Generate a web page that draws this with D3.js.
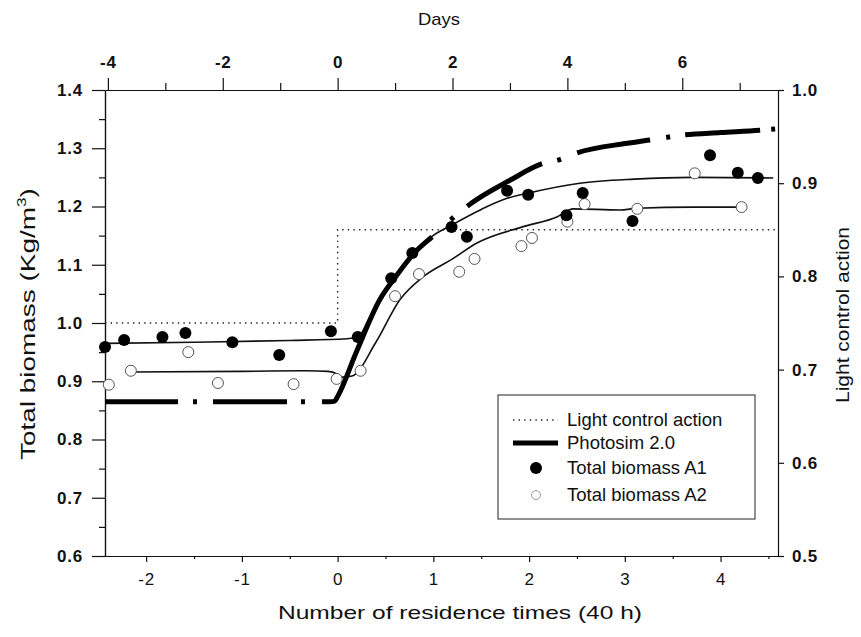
<!DOCTYPE html>
<html>
<head>
<meta charset="utf-8">
<script src="https://cdn.jsdelivr.net/npm/d3@7"></script>
<style>
  body { margin: 0; background: #fff; }
  text { font-family: "Liberation Sans", Arial, sans-serif; fill: #111; }
</style>
</head>
<body>
<div id="chart"></div>
<script>
// light control action (right axis), step at t = 0
const lightX = [-2.43, 0, 0, 4.6];
const lightY = [0.75, 0.75, 0.85, 0.85];

// Photosim 2.0 model output
const photoX = [-2.43, -0.08, -0.03, 0.0, 0.2, 0.44, 0.6, 0.8, 1.0, 1.2, 1.4, 1.8, 2.13, 2.31, 2.5, 3.0, 3.26, 3.62, 4.0, 4.41, 4.57];
const photoY = [0.865, 0.865, 0.866, 0.874, 0.952, 1.04, 1.078, 1.12, 1.15, 1.18, 1.206, 1.245, 1.273, 1.28, 1.292, 1.308, 1.314, 1.323, 1.327, 1.331, 1.333];

// fitted trend lines
const a1FitX = [-2.43, -1.5, -0.5, 0.1, 0.22, 0.32, 0.44, 0.6, 0.8, 0.98, 1.19, 1.5, 1.77, 1.99, 2.53, 3.1, 3.71, 4.55];
const a1FitY = [0.965, 0.967, 0.97, 0.973, 0.977, 1.005, 1.04, 1.08, 1.12, 1.148, 1.168, 1.195, 1.214, 1.223, 1.24, 1.247, 1.25, 1.249];
const a2FitX = [-2.17, -1.0, -0.32, -0.1, 0.0, 0.05, 0.15, 0.4, 0.65, 0.89, 1.2, 1.45, 1.93, 2.29, 2.46, 2.95, 3.13, 3.71, 4.22];
const a2FitY = [0.916, 0.917, 0.918, 0.917, 0.912, 0.907, 0.909, 0.967, 1.04, 1.079, 1.11, 1.137, 1.165, 1.182, 1.196, 1.194, 1.197, 1.199, 1.199];

// measured biomass
const a1X = [-2.43, -2.23, -1.83, -1.59, -1.10, -0.61, -0.07, 0.21, 0.56, 0.78, 1.19, 1.35, 1.77, 1.99, 2.39, 2.56, 3.08, 3.89, 4.18, 4.39];
const a1Y = [0.959, 0.971, 0.976, 0.983, 0.967, 0.945, 0.986, 0.976, 1.077, 1.12, 1.165, 1.148, 1.227, 1.22, 1.185, 1.223, 1.175, 1.288, 1.258, 1.249];
const a2X = [-2.39, -2.16, -1.56, -1.25, -0.46, -0.01, 0.24, 0.60, 0.85, 1.27, 1.43, 1.92, 2.03, 2.40, 2.58, 3.13, 3.73, 4.22];
const a2Y = [0.894, 0.918, 0.95, 0.897, 0.895, 0.904, 0.918, 1.046, 1.084, 1.088, 1.11, 1.132, 1.146, 1.174, 1.204, 1.196, 1.257, 1.199];

// ticks
const bottomTicks = [-2, -1, 0, 1, 2, 3, 4];
const topTicks = [-4, -2, 0, 2, 4, 6];
const leftTicks = [0.6, 0.7, 0.8, 0.9, 1.0, 1.1, 1.2, 1.3, 1.4];
const rightTicks = [0.5, 0.6, 0.7, 0.8, 0.9, 1.0];

const legendLabels = ["Light control action", "Photosim 2.0", "Total biomass A1", "Total biomass A2"];

// dash-dot style of the Photosim line, laid out along x (residence times)
const photoDashes = [[-2.45, -1.667], [-1.302, -0.529], [-0.163, 0.986], [1.352, 2.135], [2.501, 3.263], [3.629, 4.412]];
const photoDots = [-1.49, -0.362, 1.195, 2.313, 3.451, 4.548];

const width = 861, height = 637;
const plotL = 105, plotR = 778, plotT = 90, plotB = 556;

const svg = d3.select("#chart")
    .append("svg")
    .attr("width", width)
    .attr("height", height);

const x = d3.scaleLinear().domain([-2.43, 4.6]).range([plotL, plotR]);
// 1 residence time = 40 h
const xDays = d3.scaleLinear().domain(x.domain().map(v => v * 40 / 24)).range([plotL, plotR]);
const yL = d3.scaleLinear().domain([0.6, 1.4]).range([plotB, plotT]);
const yR = d3.scaleLinear().domain([0.5, 1.0]).range([plotB, plotT]);

const zip = (xs, ys) => xs.map((v, i) => [v, ys[i]]);
const plain = d => String(d);

// axes
const fmt = d3.format(".1f");
const bottomAxis = svg.append("g")
    .attr("transform", `translate(0,${plotB})`)
    .call(d3.axisBottom(x).tickValues(bottomTicks).tickSize(6).tickSizeOuter(0).tickFormat(plain));
const topAxis = svg.append("g")
    .attr("transform", `translate(0,${plotT})`)
    .call(d3.axisTop(xDays).tickValues(topTicks).tickSize(12).tickSizeOuter(0).tickFormat(plain));
const leftAxis = svg.append("g")
    .attr("transform", `translate(${plotL},0)`)
    .call(d3.axisLeft(yL).tickValues(leftTicks).tickSize(13).tickSizeOuter(0).tickFormat(fmt));
const rightAxis = svg.append("g")
    .attr("transform", `translate(${plotR},0)`)
    .call(d3.axisRight(yR).tickValues(rightTicks).tickSize(6).tickSizeOuter(0).tickFormat(fmt));

// minor ticks
svg.append("g")
    .attr("transform", `translate(${plotL},0)`)
    .call(d3.axisLeft(yL).tickValues(d3.range(0.65, 1.4, 0.1)).tickSize(6).tickSizeOuter(0).tickFormat(""));
svg.append("g")
    .attr("transform", `translate(0,${plotT})`)
    .call(d3.axisTop(xDays).tickValues([-3, -1, 1, 3, 5, 7]).tickSize(7).tickSizeOuter(0).tickFormat(""));
svg.append("g")
    .attr("transform", `translate(0,${plotB})`)
    .call(d3.axisBottom(x).tickValues([-1.5, -0.5, 0.5, 1.5, 2.5, 3.5, 4.5]).tickSize(3).tickSizeOuter(0).tickFormat(""));

svg.selectAll(".domain, .tick line").attr("stroke", "#111").attr("stroke-width", 1.2);
[bottomAxis, topAxis, leftAxis, rightAxis].forEach(g => {
    g.selectAll(".tick text")
        .style("font-family", "'Liberation Sans', Arial, sans-serif")
        .style("font-size", "17px")
        .style("font-weight", "bold")
        .style("letter-spacing", "0.8px")
        .attr("fill", "#111");
});
bottomAxis.selectAll(".tick text").attr("y", 17).style("font-weight", "normal");
topAxis.selectAll(".tick text").attr("y", -22);
leftAxis.selectAll(".tick text").attr("x", -22);
rightAxis.selectAll(".tick text").attr("x", 14);

// axis titles
svg.append("text")
    .attr("x", 439).attr("y", 25)
    .attr("text-anchor", "middle")
    .attr("font-size", "17px")
    .attr("textLength", 42)
    .attr("lengthAdjust", "spacingAndGlyphs")
    .text("Days");

svg.append("text")
    .attr("x", 460).attr("y", 619)
    .attr("text-anchor", "middle")
    .attr("font-size", "19px")
    .attr("textLength", 364)
    .attr("lengthAdjust", "spacingAndGlyphs")
    .text("Number of residence times (40 h)");

const yTitle = svg.append("text")
    .attr("transform", "translate(35,324) rotate(-90) scale(1.33,1)")
    .attr("text-anchor", "middle")
    .attr("font-size", "21px");
yTitle.append("tspan").text("Total biomass (Kg/m");
yTitle.append("tspan").attr("font-size", "13px").attr("dy", -9).text("3");
yTitle.append("tspan").attr("dy", 9).text(")");

svg.append("text")
    .attr("transform", "translate(849,315) rotate(-90)")
    .attr("text-anchor", "middle")
    .attr("font-size", "19px")
    .attr("textLength", 176)
    .attr("lengthAdjust", "spacingAndGlyphs")
    .text("Light control action");

// lines
const lineR = d3.line().x(d => x(d[0])).y(d => yR(d[1]));
const smooth = d3.line().x(d => x(d[0])).y(d => yL(d[1])).curve(d3.curveMonotoneX);

svg.append("path")
    .attr("d", lineR(zip(lightX, lightY)))
    .attr("fill", "none")
    .attr("stroke", "#222")
    .attr("stroke-width", 1.4)
    .attr("stroke-dasharray", "1.4 4.2");

svg.append("path")
    .attr("d", smooth(zip(a1FitX, a1FitY)))
    .attr("fill", "none")
    .attr("stroke", "#111")
    .attr("stroke-width", 1.6);

svg.append("path")
    .attr("d", smooth(zip(a2FitX, a2FitY)))
    .attr("fill", "none")
    .attr("stroke", "#111")
    .attr("stroke-width", 1.6);

const photoPath = svg.append("path")
    .attr("d", smooth(zip(photoX, photoY)))
    .attr("fill", "none")
    .attr("stroke", "#000")
    .attr("stroke-width", 5);

// turn the x-based dash layout into a path-length dasharray
const pNode = photoPath.node();
const total = pNode.getTotalLength();
function lengthAtX(px) {
    let lo = 0, hi = total;
    for (let k = 0; k < 40; k++) {
        const mid = (lo + hi) / 2;
        if (pNode.getPointAtLength(mid).x < px) lo = mid; else hi = mid;
    }
    return (lo + hi) / 2;
}
const pieces = photoDashes.map(([a, b]) => [lengthAtX(x(a)), lengthAtX(x(b))])
    .concat(photoDots.map(c => { const l = lengthAtX(x(c)); return [l - 2, l + 2]; }))
    .sort((p, q) => p[0] - q[0]);
const dash = [];
let pos = 0;
pieces.forEach(([a, b], i) => {
    a = Math.max(a, pos);
    if (i === 0 && a > 0) dash.push(0, a);
    else if (i > 0) dash.push(a - pos);
    dash.push(b - a);
    pos = b;
});
dash.push(total + 10);
photoPath.attr("stroke-dasharray", dash.join(" "));

// markers
svg.append("g").selectAll("circle")
    .data(zip(a2X, a2Y))
    .enter()
    .append("circle")
    .attr("cx", d => x(d[0]))
    .attr("cy", d => yL(d[1]))
    .attr("r", 5.5)
    .attr("fill", "#fff")
    .attr("stroke", "#555")
    .attr("stroke-width", 1);

svg.append("g").selectAll("circle")
    .data(zip(a1X, a1Y))
    .enter()
    .append("circle")
    .attr("cx", d => x(d[0]))
    .attr("cy", d => yL(d[1]))
    .attr("r", 6)
    .attr("fill", "#000");

// legend
const legend = svg.append("g").attr("transform", "translate(498,395)");
legend.append("rect")
    .attr("width", 257).attr("height", 124)
    .attr("fill", "#fff")
    .attr("stroke", "#222")
    .attr("stroke-width", 1);

const rowY = [25, 48, 73, 100];
legend.selectAll("text.lab")
    .data(legendLabels)
    .enter()
    .append("text")
    .attr("class", "lab")
    .attr("x", 69)
    .attr("y", (d, i) => rowY[i])
    .attr("dy", "0.35em")
    .attr("font-size", "18.5px")
    .text(d => d);

legend.append("line")
    .attr("x1", 15).attr("x2", 60).attr("y1", rowY[0]).attr("y2", rowY[0])
    .attr("stroke", "#222").attr("stroke-width", 1.4).attr("stroke-dasharray", "1.4 4.2");
legend.append("line")
    .attr("x1", 15).attr("x2", 60).attr("y1", rowY[1]).attr("y2", rowY[1])
    .attr("stroke", "#000").attr("stroke-width", 5);
legend.append("circle")
    .attr("cx", 38).attr("cy", rowY[2]).attr("r", 6).attr("fill", "#000");
legend.append("circle")
    .attr("cx", 38).attr("cy", rowY[3]).attr("r", 4.5)
    .attr("fill", "#fff").attr("stroke", "#999").attr("stroke-width", 1);
</script>
</body>
</html>
